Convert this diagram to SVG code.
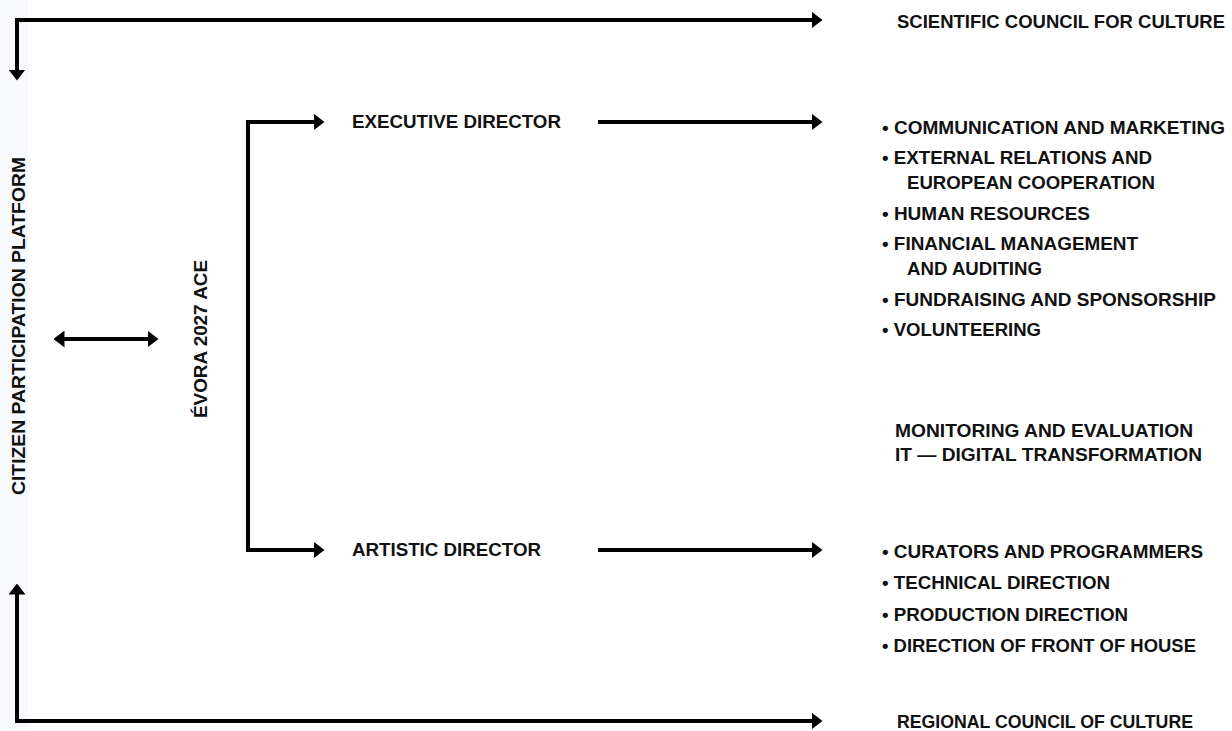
<svg xmlns="http://www.w3.org/2000/svg" width="1232" height="731" viewBox="0 0 1232 731">
  <style>
    .t { font-family: "Liberation Sans", Arial, sans-serif; font-weight: 700; font-size: 19px; fill: #111111; }
    .c { fill: none; stroke: #000000; stroke-width: 4; stroke-linejoin: miter; stroke-linecap: butt; }
  </style>
  <defs>
    <marker id="ah" viewBox="0 0 11 17" refX="0.5" refY="8.5" markerWidth="11" markerHeight="17" markerUnits="userSpaceOnUse" orient="auto-start-reverse">
      <path d="M0,0 L11,8.5 L0,17 z" fill="#000000"/>
    </marker>
  </defs>
  <rect x="0" y="0" width="1232" height="731" fill="#ffffff"/>
  <rect x="0" y="0" width="28" height="731" fill="#f7f9fd"/>

  <g id="connectors">
    <path class="c" d="M17,70 V20 H812" marker-start="url(#ah)" marker-end="url(#ah)"/>
    <path class="c" d="M17,594 V721 H812" marker-start="url(#ah)" marker-end="url(#ah)"/>
    <path class="c" d="M314,122 H248 V550 H314" marker-start="url(#ah)" marker-end="url(#ah)"/>
    <path class="c" d="M598,122 H812" marker-end="url(#ah)"/>
    <path class="c" d="M598,550 H812" marker-end="url(#ah)"/>
    <path class="c" d="M64,339 H148" marker-start="url(#ah)" marker-end="url(#ah)"/>
  </g>

  <g id="citizen-participation-platform">
    <text class="t" transform="translate(25,495) rotate(-90)" x="0" y="0" textLength="338" lengthAdjust="spacingAndGlyphs">CITIZEN PARTICIPATION PLATFORM</text>
  </g>
  <g id="evora-2027-ace">
    <text class="t" transform="translate(207,418) rotate(-90)" x="0" y="0" textLength="158" lengthAdjust="spacingAndGlyphs">ÉVORA 2027 ACE</text>
  </g>
  <g id="scientific-council">
    <text class="t" x="897" y="28" textLength="328" lengthAdjust="spacingAndGlyphs">SCIENTIFIC COUNCIL FOR CULTURE</text>
  </g>
  <g id="regional-council">
    <text class="t" x="897" y="728" textLength="296" lengthAdjust="spacingAndGlyphs">REGIONAL COUNCIL OF CULTURE</text>
  </g>
  <g id="executive-director">
    <text class="t" x="352" y="128" textLength="209" lengthAdjust="spacingAndGlyphs">EXECUTIVE DIRECTOR</text>
  </g>
  <g id="artistic-director">
    <text class="t" x="352" y="556" textLength="189" lengthAdjust="spacingAndGlyphs">ARTISTIC DIRECTOR</text>
  </g>
  <g id="executive-departments">
    <text class="t" x="882" y="134" textLength="343" lengthAdjust="spacingAndGlyphs">• COMMUNICATION AND MARKETING</text>
    <text class="t" x="882" y="164" textLength="270" lengthAdjust="spacingAndGlyphs">• EXTERNAL RELATIONS AND</text>
    <text class="t" x="907" y="189" textLength="248" lengthAdjust="spacingAndGlyphs">EUROPEAN COOPERATION</text>
    <text class="t" x="882" y="220" textLength="208" lengthAdjust="spacingAndGlyphs">• HUMAN RESOURCES</text>
    <text class="t" x="882" y="250" textLength="256" lengthAdjust="spacingAndGlyphs">• FINANCIAL MANAGEMENT</text>
    <text class="t" x="907" y="275" textLength="135" lengthAdjust="spacingAndGlyphs">AND AUDITING</text>
    <text class="t" x="882" y="306" textLength="334" lengthAdjust="spacingAndGlyphs">• FUNDRAISING AND SPONSORSHIP</text>
    <text class="t" x="882" y="336" textLength="159" lengthAdjust="spacingAndGlyphs">• VOLUNTEERING</text>
  </g>
  <g id="monitoring">
    <text class="t" x="895" y="437" textLength="298" lengthAdjust="spacingAndGlyphs">MONITORING AND EVALUATION</text>
    <text class="t" x="895" y="461" textLength="307" lengthAdjust="spacingAndGlyphs">IT — DIGITAL TRANSFORMATION</text>
  </g>
  <g id="artistic-departments">
    <text class="t" x="882" y="558" textLength="321" lengthAdjust="spacingAndGlyphs">• CURATORS AND PROGRAMMERS</text>
    <text class="t" x="882" y="589" textLength="228" lengthAdjust="spacingAndGlyphs">• TECHNICAL DIRECTION</text>
    <text class="t" x="882" y="621" textLength="246" lengthAdjust="spacingAndGlyphs">• PRODUCTION DIRECTION</text>
    <text class="t" x="882" y="652" textLength="314" lengthAdjust="spacingAndGlyphs">• DIRECTION OF FRONT OF HOUSE</text>
  </g>
</svg>
